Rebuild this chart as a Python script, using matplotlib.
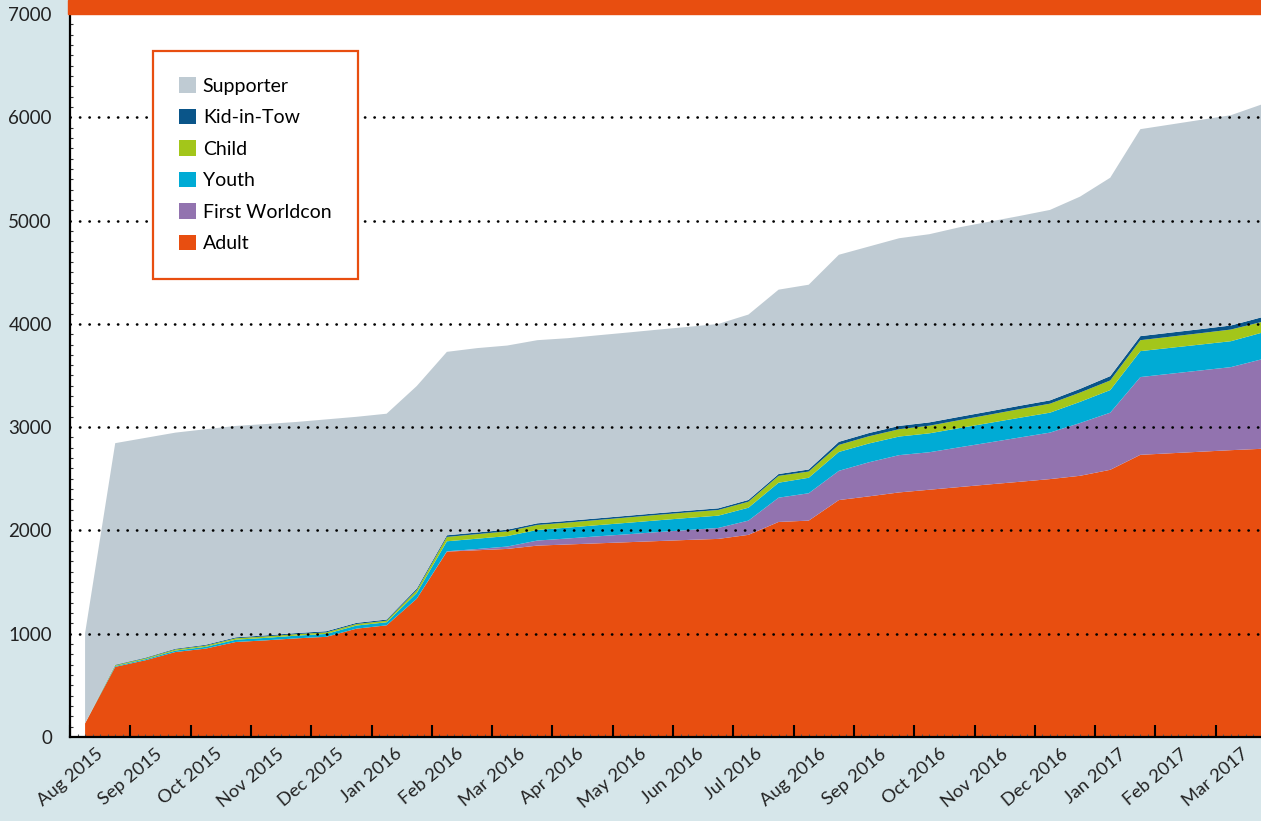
"""Cumulative Worldcon membership by type, stacked area chart

"""

import numpy as np
import matplotlib
matplotlib.use('Agg')
import matplotlib.pyplot as plt
import matplotlib.transforms as mtransforms
from matplotlib.patches import Rectangle
from matplotlib.ticker import MultipleLocator

plt.rcParams['font.family'] = ['Lato', 'DejaVu Sans']

months = ['Aug 2015', 'Sep 2015', 'Oct 2015', 'Nov 2015', 'Dec 2015',
          'Jan 2016', 'Feb 2016', 'Mar 2016', 'Apr 2016', 'May 2016',
          'Jun 2016', 'Jul 2016', 'Aug 2016', 'Sep 2016', 'Oct 2016',
          'Nov 2016', 'Dec 2016', 'Jan 2017', 'Feb 2017', 'Mar 2017']

# twice-monthly snapshots, in months counted from Aug 2015
snapshots = np.arange(0.25, 20, 0.5)

adult = [132, 679, 743, 823, 856, 920, 936, 955, 970, 1049,
         1081, 1339, 1795, 1808, 1821, 1853, 1864, 1875, 1886, 1897,
         1908, 1918, 1957, 2082, 2095, 2294, 2330, 2368, 2394, 2420,
         2446, 2471, 2497, 2529, 2587, 2732, 2747, 2762, 2777, 2790]
first_worldcon = [0, 0, 0, 0, 0, 0, 0, 0, 0, 0,
                  0, 0, 3, 12, 23, 49, 58, 68, 77, 87,
                  96, 106, 138, 235, 265, 283, 330, 361, 363, 385,
                  406, 429, 450, 511, 553, 753, 770, 787, 804, 865]
youth = [0, 8, 10, 14, 17, 22, 24, 26, 28, 30,
         30, 55, 97, 100, 101, 103, 105, 108, 111, 114,
         117, 119, 125, 145, 150, 183, 182, 180, 183, 186,
         189, 191, 193, 205, 219, 251, 251, 251, 251, 257]
child = [0, 8, 9, 11, 12, 14, 14, 15, 15, 15,
         15, 27, 42, 44, 46, 48, 49, 50, 52, 53,
         54, 55, 58, 66, 60, 68, 70, 71, 74, 77,
         80, 84, 87, 90, 93, 106, 108, 110, 113, 105]
kid_in_tow = [0, 5, 6, 7, 8, 9, 10, 10, 11, 11,
              11, 15, 16, 16, 16, 16, 16, 16, 16, 16,
              16, 16, 17, 18, 20, 30, 31, 32, 32, 32,
              32, 32, 32, 36, 42, 39, 39, 39, 39, 45]
supporter = [873, 2145, 2128, 2092, 2087, 2047, 2046, 2044, 2051, 1995,
             1993, 1962, 1776, 1785, 1783, 1773, 1769, 1772, 1774, 1777,
             1780, 1785, 1795, 1785, 1789, 1811, 1806, 1817, 1822, 1835,
             1837, 1838, 1844, 1861, 1921, 2004, 2015, 2026, 2036, 2060]

labels = ['Adult', 'First Worldcon', 'Youth', 'Child', 'Kid-in-Tow',
          'Supporter']
colors = ['#e84e10', '#9273af', '#00abd5', '#a3c61a', '#0a5589', '#bfcbd3']

fig = plt.figure(figsize=(12.61, 8.21), dpi=100, facecolor='#d6e6ea')
ax = fig.add_axes([70 / 1261, 84 / 821, 1191 / 1261, 723 / 821])
ax.set_facecolor('white')

polys = ax.stackplot(snapshots, adult, first_worldcon, youth, child,
                     kid_in_tow, supporter, colors=colors, labels=labels,
                     linewidth=0, zorder=1)

ax.set_xlim(snapshots[0], snapshots[-1])
ax.set_ylim(0, 7000)

# dotted gridlines drawn over the areas
yticks = np.arange(0, 7001, 1000)
for y in yticks[1:-1]:
    ax.axhline(y, color='black', lw=1.9, ls=(0, (0.1, 3.5)),
               dash_capstyle='round', zorder=3)

for side in ('top', 'right'):
    ax.spines[side].set_visible(False)
for side in ('left', 'bottom'):
    ax.spines[side].set_linewidth(1.6)
    ax.spines[side].set_zorder(4)

ax.set_yticks(yticks)
ax.set_yticklabels([str(v) for v in yticks])
ax.tick_params(axis='y', which='major', length=0, pad=13, labelsize=13.5,
               labelcolor='#222222')
ax.yaxis.set_minor_locator(MultipleLocator(100))
ax.tick_params(axis='y', which='minor', direction='in', length=2.5,
               width=0.8, color='#333333')

ax.set_xticks(np.arange(len(months)))
ax.set_xticklabels([])
ax.tick_params(axis='x', which='major', direction='in', length=8.5,
               width=1.5, color='black')
ax.xaxis.set_minor_locator(MultipleLocator(0.125))
ax.tick_params(axis='x', which='minor', direction='in', length=2.5,
               width=0.8, color='#555555')

# month labels, including the one left of the axis start
trans = mtransforms.blended_transform_factory(ax.transData, ax.transAxes)
for m, lab in enumerate(months):
    ax.text(m, -0.012, lab, transform=trans, rotation=40, ha='center',
            va='top', fontsize=13.2, color='#222222', clip_on=False)

# orange band along the top
pos = ax.get_position()
fig.add_artist(Rectangle((68 / 1261, pos.y1), 1 - 68 / 1261, 1 - pos.y1,
                         transform=fig.transFigure, color=colors[0],
                         zorder=5))

handles = polys[::-1]
leg = ax.legend(handles, labels[::-1], loc='upper left',
                bbox_to_anchor=(0.0697, 0.9487), borderaxespad=0,
                fontsize=14, frameon=True, fancybox=False, framealpha=1,
                edgecolor=colors[0], borderpad=1.35, handlelength=0.85,
                handleheight=0.85, handletextpad=0.36, labelspacing=0.72)
leg.get_frame().set_linewidth(1.6)
leg.set_zorder(6)

fig.savefig('out.png', dpi=100, facecolor=fig.get_facecolor())
